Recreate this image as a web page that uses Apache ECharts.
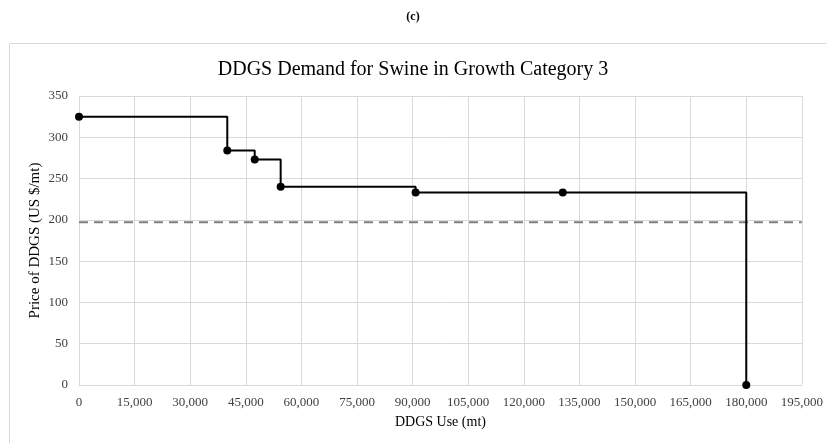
<!DOCTYPE html>
<html>
<head>
<meta charset="utf-8">
<script src="https://cdn.jsdelivr.net/npm/echarts@6/dist/echarts.min.js"></script>
<style>html,body{margin:0;padding:0;background:#fff;}#c{width:826px;height:443px;}</style>
</head>
<body>
<div id="c"></div>
<script>
// Demand step points (DDGS use in mt, price in US $/mt)
const useMt = [0, 40000, 47400, 54400, 90800, 130500, 180000];
const price = [325, 284, 273, 240, 233, 233, 0];
// Reference price (dashed line)
const refX = [0, 195000];
const refPrice = [197, 197];
const xTicks = {min: 0, max: 195000, interval: 15000};
const yTicks = {min: 0, max: 350, interval: 50};

const serif = '"Liberation Serif", "Times New Roman", serif';
const chart = echarts.init(document.getElementById('c'));
chart.setOption({
  animation: false,
  backgroundColor: '#fff',
  graphic: [{
    type: 'rect', left: 7, top: 41, shape: {width: 830, height: 420},
    style: {fill: 'none', stroke: '#d9d9d9', lineWidth: 1}, silent: true
  }],
  title: [
    {text: '(c)', left: 'center', top: 6, textStyle: {fontFamily: serif, fontSize: 12, fontWeight: 'bold', color: '#000'}},
    {text: 'DDGS Demand for Swine in Growth Category 3', left: 'center', top: 55, textStyle: {fontFamily: serif, fontSize: 20, fontWeight: 'normal', color: '#000'}}
  ],
  grid: {left: 79, right: 24, top: 96, bottom: 58, containLabel: false},
  xAxis: {
    type: 'value', min: xTicks.min, max: xTicks.max, interval: xTicks.interval,
    name: 'DDGS Use (mt)', nameLocation: 'middle', nameGap: 30,
    nameTextStyle: {fontFamily: serif, fontSize: 14, color: '#000'},
    axisLine: {show: true, lineStyle: {color: '#d9d9d9', width: 1}},
    axisTick: {show: false},
    axisLabel: {fontFamily: serif, fontSize: 13, color: '#404040', margin: 11,
      formatter: v => v.toLocaleString('en-US')},
    splitLine: {show: true, lineStyle: {color: '#d9d9d9', width: 1}}
  },
  yAxis: {
    type: 'value', min: yTicks.min, max: yTicks.max, interval: yTicks.interval,
    name: 'Price of DDGS (US $/mt)', nameLocation: 'middle', nameGap: 36, nameMoveOverlap: false,
    nameTextStyle: {fontFamily: serif, fontSize: 15, color: '#000'},
    axisLine: {show: false}, axisTick: {show: false},
    axisLabel: {fontFamily: serif, fontSize: 13, color: '#404040', margin: 11},
    splitLine: {show: true, lineStyle: {color: '#d9d9d9', width: 1}}
  },
  series: [
    {
      type: 'line', data: refX.map((x, i) => [x, refPrice[i]]),
      symbol: 'none', silent: true,
      lineStyle: {color: '#7f7f7f', width: 2, type: [9, 6]}
    },
    {
      type: 'line', step: 'end', data: useMt.map((x, i) => [x, price[i]]),
      symbol: 'circle', symbolSize: 8,
      itemStyle: {color: '#000'},
      lineStyle: {color: '#000', width: 2}
    }
  ]
});
</script>
</body>
</html>
